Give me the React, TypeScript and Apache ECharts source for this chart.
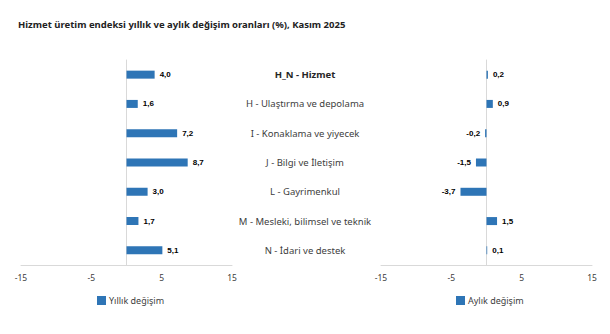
import React, { useEffect, useRef } from "react";
import * as echarts from "echarts";

const title = "Hizmet üretim endeksi yıllık ve aylık değişim oranları (%), Kasım 2025";
const categories = [
  "H_N - Hizmet",
  "H - Ulaştırma ve depolama",
  "I - Konaklama ve yiyecek",
  "J - Bilgi ve İletişim",
  "L - Gayrimenkul",
  "M - Mesleki, bilimsel ve teknik",
  "N - İdari ve destek",
];
const yearlyName = "Yıllık değişim";
const monthlyName = "Aylık değişim";
const yearly = [4.0, 1.6, 7.2, 8.7, 3.0, 1.7, 5.1];
const monthly = [0.2, 0.9, -0.2, -1.5, -3.7, 1.5, 0.1];
const axisMin = -15;
const axisMax = 15;
const axisInterval = 10;

const BLUE = "#2E75B6";
const FONT = "'Noto Sans', 'Open Sans', sans-serif";
const fmt = (v: number) => v.toFixed(1).replace(".", ",");

const toData = (arr: number[]) =>
  arr.map((v) => ({
    value: v,
    label: { position: v < 0 ? "left" : "right" },
  }));

export default function App() {
  const ref = useRef<HTMLDivElement>(null);
  useEffect(() => {
    if (!ref.current) return;
    const chart = echarts.init(ref.current, null, { renderer: "svg" });
    const xAxisBase = (gridIndex: number) => ({
      type: "value",
      gridIndex,
      min: axisMin,
      max: axisMax,
      interval: axisInterval,
      axisLine: { show: true, onZero: false, lineStyle: { color: "#d9d9d9", width: 1 } },
      axisTick: { show: false },
      splitLine: { show: false },
      axisLabel: { color: "#404040", fontSize: 8.5, fontFamily: FONT, margin: 8 },
    });
    const yAxisZero = (gridIndex: number) => ({
      type: "category",
      gridIndex,
      data: categories,
      inverse: true,
      axisLine: { show: true, onZero: true, lineStyle: { color: "#d9d9d9", width: 1 } },
      axisTick: { show: false },
      axisLabel: { show: false },
      splitLine: { show: false },
    });
    const labelStyle = {
      show: true,
      distance: 5,
      color: "#000",
      fontSize: 8,
      fontWeight: "bold",
      fontFamily: "'Liberation Sans', Arial, sans-serif",
      formatter: (p: any) => fmt(p.value),
    };
    const legendBase = {
      icon: "rect",
      itemWidth: 9,
      itemHeight: 9,
      itemGap: 4,
      top: 291,
      textStyle: { color: "#404040", fontSize: 9, fontFamily: FONT, padding: [0, 0, 0, -2] },
    };
    chart.setOption({
      animation: false,
      backgroundColor: "#fff",
      title: {
        text: title,
        left: 13,
        top: 14,
        textStyle: { fontSize: 9.5, fontWeight: "bold", color: "#222", fontFamily: FONT },
      },
      legend: [
        { ...legendBase, data: [yearlyName], left: 92 },
        { ...legendBase, data: [monthlyName], left: 451 },
      ],
      grid: [
        { left: 21, top: 60, height: 205, width: 211 },
        { left: 381, top: 60, height: 205, width: 211 },
      ],
      xAxis: [xAxisBase(0), xAxisBase(1)],
      yAxis: [
        yAxisZero(0),
        yAxisZero(1),
        {
          type: "category",
          gridIndex: 0,
          position: "right",
          data: categories,
          inverse: true,
          axisLine: { show: false, onZero: false },
          axisTick: { show: false },
          splitLine: { show: false },
          axisLabel: {
            show: true,
            align: "center",
            margin: 73,
            color: "#404040",
            fontSize: 9.5,
            fontFamily: FONT,
            formatter: (v: string, i: number) => (i === 0 ? `{b|${v}}` : v),
            rich: {
              b: { fontWeight: "bold", color: "#262626", fontSize: 9.5, fontFamily: FONT },
            },
          },
        },
      ],
      series: [
        {
          name: yearlyName,
          type: "bar",
          xAxisIndex: 0,
          yAxisIndex: 0,
          barWidth: 8,
          itemStyle: { color: BLUE },
          label: labelStyle,
          data: toData(yearly),
        },
        {
          name: monthlyName,
          type: "bar",
          xAxisIndex: 1,
          yAxisIndex: 1,
          barWidth: 8,
          itemStyle: { color: BLUE },
          label: labelStyle,
          data: toData(monthly),
        },
      ],
    });
    return () => chart.dispose();
  }, []);
  return <div ref={ref} style={{ width: 610, height: 334, position: "absolute", left: 0, top: 0 }} />;
}
